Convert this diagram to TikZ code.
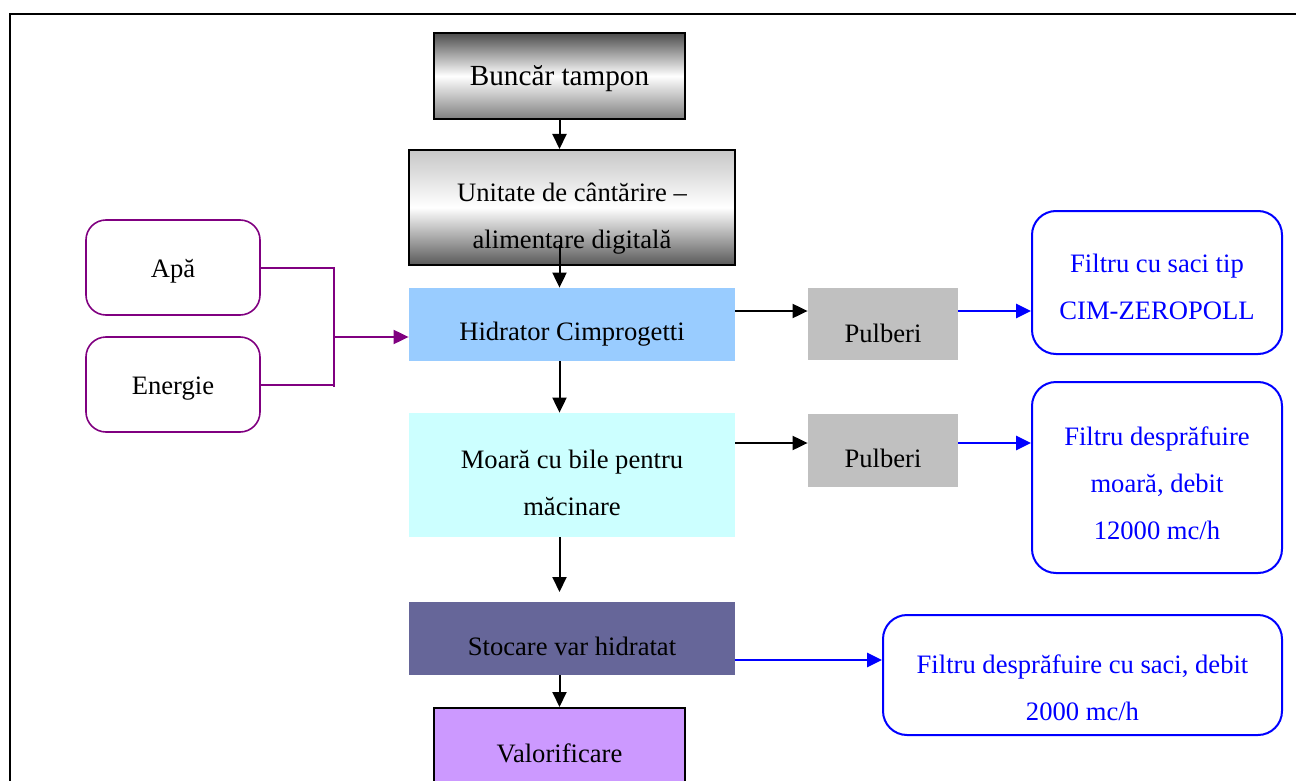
\documentclass[tikz,border=0pt]{standalone}
\usepackage{fontspec}
\setmainfont{Liberation Serif}
\usetikzlibrary{arrows.meta}
\definecolor{hidrblue}{HTML}{99CCFF}
\definecolor{moarcyan}{HTML}{CCFFFF}
\definecolor{stocblue}{HTML}{666699}
\definecolor{valorlila}{HTML}{CC99FF}
\definecolor{pulbgray}{HTML}{C0C0C0}
\definecolor{sursapurple}{HTML}{800080}
\definecolor{filtblue}{HTML}{0000FF}
\begin{document}
\begin{tikzpicture}[x=0.5pt,y=-0.5pt,
  every node/.style={font=\fontsize{13.3}{23.5}\selectfont, align=center, inner sep=0pt},
  arr/.style={line width=1pt, -{Triangle[length=7.5pt,width=7pt]}},
  bluearr/.style={arr, filtblue, line width=1.3pt},
  purparr/.style={arr, sursapurple},
  filtbox/.style={draw=filtblue, line width=1pt, rounded corners=12pt},
  filttext/.style={text=filtblue},
  sursabox/.style={draw=sursapurple, line width=0.8pt, rounded corners=10pt,
    minimum width=87pt, minimum height=47.5pt}]
\useasboundingbox (0,0) rectangle (1296,781);
\clip (0,0) rectangle (1296,781);
\draw[line width=1.2pt] (10,14) rectangle (1320,820);

% coloana principala
\node[draw, line width=1pt, minimum width=125.5pt, minimum height=43pt,
  top color=black!70, bottom color=black!50, middle color=white,
  label={[yshift=-1.5pt, font=\fontsize{14.6}{23.5}\selectfont]center:Buncăr tampon}] (bunc) at (559.5,76) {};
\node[draw, line width=1pt, minimum width=163pt, minimum height=57.5pt,
  top color=black!22, bottom color=black!65, middle color=white,
  label={[yshift=-5.5pt]center:{Unitate de cântărire --\\alimentare digitală}}] (unit) at (572,207.5) {};
\node[fill=hidrblue, minimum width=163pt, minimum height=36.5pt,
  label={[yshift=-5pt]center:Hidrator Cimprogetti}] (hidr) at (572,324.5) {};
\node[fill=moarcyan, minimum width=163pt, minimum height=62pt,
  label={[yshift=-4pt]center:{Moară cu bile pentru\\măcinare}}] (moara) at (572,475) {};
\node[fill=stocblue, minimum width=163pt, minimum height=36.5pt,
  label={[yshift=-4pt]center:Stocare var hidratat}] (stoc) at (572,638.5) {};
\node[draw, line width=1pt, fill=valorlila, minimum width=125.5pt, minimum height=41pt,
  label={[yshift=-2pt]center:Valorificare}] (valor) at (559.5,749) {};

% pulberi si filtre
\node[fill=pulbgray, minimum width=75pt, minimum height=36pt,
  label={[yshift=-4.5pt]center:Pulberi}] (pulb1) at (883,324) {};
\node[fill=pulbgray, minimum width=75pt, minimum height=36.5pt,
  label={[yshift=-4pt]center:Pulberi}] (pulb2) at (883,450.5) {};
\node[filtbox, minimum width=125pt, minimum height=71.5pt,
  label={[filttext, yshift=-2pt]center:{Filtru cu saci tip\\CIM-ZEROPOLL}}] (filt1) at (1157,282.5) {};
\node[filtbox, minimum width=125pt, minimum height=95.5pt,
  label={[filttext, yshift=-3pt]center:{Filtru desprăfuire\\moară, debit\\12000 mc/h}}] (filt2) at (1157,477.5) {};
\node[filtbox, minimum width=199.5pt, minimum height=60pt,
  label={[filttext, yshift=-6.5pt]center:{Filtru desprăfuire cu saci, debit\\2000 mc/h}}] (filt3) at (1082.5,675) {};

% surse
\node[sursabox, label={[yshift=-2pt]center:Apă}] (apa) at (173,267.5) {};
\node[sursabox, label={[yshift=-2pt]center:Energie}] (energ) at (173,384.5) {};

\coordinate (c1) at (559.5,245);
\coordinate (jn) at (334,337);
\coordinate (p1) at (735,311);
\coordinate (p2) at (735,443);
\coordinate (s1) at (735,660);

\draw[arr] (bunc.south) -- (bunc.south |- unit.north);
\draw[arr] (c1) -- (c1 |- hidr.north);
\draw[arr] (bunc.south |- hidr.south) -- (bunc.south |- moara.north);
\draw[arr] (bunc.south |- moara.south) -- (559.5,592);
\draw[arr] (bunc.south |- stoc.south) -- (valor.north);

\draw[arr] (p1) -- (p1 -| pulb1.west);
\draw[bluearr] (p1 -| pulb1.east) -- (p1 -| filt1.west);
\draw[arr] (p2) -- (p2 -| pulb2.west);
\draw[bluearr] (p2 -| pulb2.east) -- (p2 -| filt2.west);
\draw[bluearr] (s1) -- (s1 -| filt3.west);

\draw[sursapurple, line width=1pt] (apa.east) -| (334,387);
\draw[sursapurple, line width=1pt] (energ.east) -- (energ.east -| jn);
\draw[purparr] (jn) -- (jn -| hidr.west);
\end{tikzpicture}
\end{document}
